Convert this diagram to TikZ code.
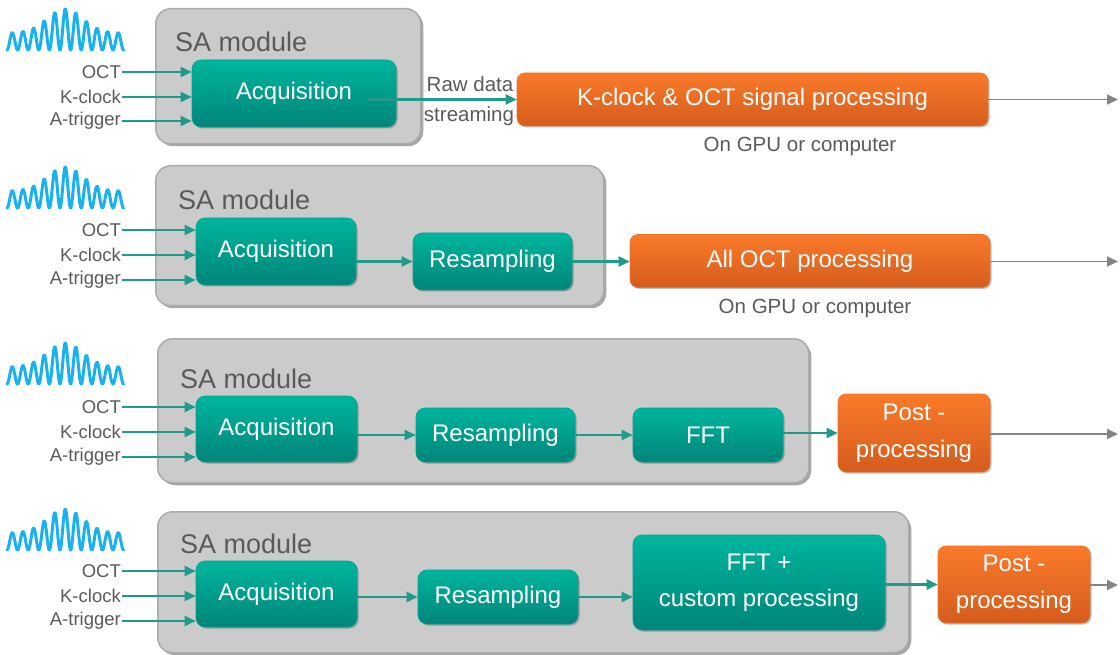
\documentclass[tikz,border=0pt]{standalone}
\usepackage{fontspec}
\setmainfont{Liberation Sans}
\usetikzlibrary{arrows.meta,shadows}
\definecolor{tealT}{HTML}{00B59D}
\definecolor{tealB}{HTML}{00857A}
\definecolor{oraT}{HTML}{FA7A2A}
\definecolor{oraB}{HTML}{D45C1D}
\definecolor{sagray}{HTML}{CBCBCB}
\definecolor{saedge}{HTML}{ABABAB}
\definecolor{txtgray}{HTML}{5A5A5A}
\definecolor{wavecol}{HTML}{1AB2EE}
\definecolor{arrteal}{HTML}{1E9B8B}
\definecolor{arrgray}{HTML}{858585}
\begin{document}
\begin{tikzpicture}[x=1pt,y=-1pt,
  sabox/.style={draw=saedge, line width=1.5pt, fill=sagray, rounded corners=15pt,
    drop shadow={shadow xshift=2.5pt,shadow yshift=-2.5pt,opacity=0.35,fill=black},
    anchor=north west, inner sep=0pt},
  satext/.style={text=txtgray, font=\fontsize{27}{30}\selectfont, anchor=base west, inner sep=0pt},
  tealbox/.style={rounded corners=9pt, top color=tealT, bottom color=tealB,
    draw=tealT!60!tealB, line width=0.6pt, text=white,
    font=\fontsize{24}{36}\selectfont, align=center, inner sep=0pt,
    drop shadow={shadow xshift=1.5pt,shadow yshift=-1.5pt,opacity=0.25,fill=black}},
  orabox/.style={rounded corners=8pt, top color=oraT, bottom color=oraB,
    draw=oraT!70!oraB, line width=0.6pt, text=white,
    font=\fontsize{24}{37}\selectfont, align=center, inner sep=0pt,
    drop shadow={shadow xshift=1.5pt,shadow yshift=-1.5pt,opacity=0.25,fill=black}},
  inlab/.style={text=txtgray, font=\fontsize{18.5}{20}\selectfont, anchor=east, inner sep=1pt},
  smalltext/.style={text=txtgray, font=\fontsize{20.5}{24}\selectfont, inner sep=0pt},
  tarr/.style={draw=arrteal, line width=2.1pt, -{Triangle[length=11pt,width=10pt]}},
  garr/.style={draw=arrgray, line width=1.8pt, -{Triangle[length=11pt,width=10pt]}},
  wavestyle/.style={draw=wavecol, line width=3pt, line join=round, line cap=round}
]
\useasboundingbox (0,0) rectangle (1120,655);

% waves
\foreach \b in {50, 208, 384, 550}{
  \draw[wavestyle] plot[domain=0:116.6, samples=360]
    ({7+\x},{\b - (17+24*exp(-((\x-58)/25)^2))*(1-cos(33.962*\x))/2});
}

%%%%%%%% Row 1
\node[sabox, minimum width=265pt, minimum height=135pt] (sa1) at (155,8) {};
\node[satext] (sat1) at (175,52) {SA module};
\node[tealbox, minimum width=204pt, minimum height=67pt] (acq1) at (294,93.5) {Acquisition};
\node[inlab] (o1) at (122,72) {OCT};
\node[inlab] (k1) at (122,97) {K-clock};
\node[inlab] (a1) at (122,121) {A-trigger};
\foreach \n in {o1,k1,a1} \draw[tarr] (\n.east) -- (\n.east -| acq1.west);
\node[orabox, minimum width=471pt, minimum height=53pt] (proc1) at (752.5,99.5) {K-clock \& OCT signal processing};
\coordinate (s1) at ([xshift=-28pt]acq1.east);
\draw[tarr] (s1 |- proc1.west) -- (proc1.west);
\node[smalltext, anchor=base] (raw) at (470,92) {Raw data};
\node[smalltext, anchor=base] (stream) at (469,122) {streaming};
\node[smalltext, anchor=base] (gpu1) at (800,152) {On GPU or computer};
\coordinate (e1) at (1118,99.5);
\draw[garr] (proc1.east) -- (e1);

%%%%%%%% Row 2
\node[sabox, minimum width=448pt, minimum height=140pt] (sa2) at (155,165) {};
\node[satext] (sat2) at (178,210) {SA module};
\node[tealbox, minimum width=160pt, minimum height=67pt] (acq2) at (276,251.5) {Acquisition};
\node[tealbox, minimum width=159pt, minimum height=57pt] (res2) at (492.5,261.5) {Resampling};
\node[inlab] (o2) at (122,230) {OCT};
\node[inlab] (k2) at (122,255) {K-clock};
\node[inlab] (a2) at (122,280) {A-trigger};
\foreach \n in {o2,k2,a2} \draw[tarr] (\n.east) -- (\n.east -| acq2.west);
\node[orabox, minimum width=360pt, minimum height=53pt] (proc2) at (810,261) {All OCT processing};
\draw[tarr] (acq2.east |- res2.west) -- (res2.west);
\draw[tarr] (res2.east) -- (res2.east -| proc2.west);
\node[smalltext, anchor=base] (gpu2) at (815,313) {On GPU or computer};
\coordinate (e2) at (1118,261.5);
\draw[garr] (proc2.east |- e2) -- (e2);

%%%%%%%% Row 3
\node[sabox, minimum width=651pt, minimum height=144pt] (sa3) at (157,338) {};
\node[satext] (sat3) at (180,388) {SA module};
\node[tealbox, minimum width=161pt, minimum height=66pt] (acq3) at (276.5,429) {Acquisition};
\node[tealbox, minimum width=159pt, minimum height=54pt] (res3) at (495.5,435) {Resampling};
\node[tealbox, minimum width=150pt, minimum height=54pt] (fft3) at (708,435) {FFT};
\node[orabox, minimum width=152pt, minimum height=78pt] (post3) at (914,433) {Post -\\processing};
\node[inlab] (o3) at (122,407) {OCT};
\node[inlab] (k3) at (122,432) {K-clock};
\node[inlab] (a3) at (122,457) {A-trigger};
\foreach \n in {o3,k3,a3} \draw[tarr] (\n.east) -- (\n.east -| acq3.west);
\draw[tarr] (acq3.east |- res3.west) -- (res3.west);
\draw[tarr] (res3.east) -- (fft3.west);
\draw[tarr] (fft3.east |- post3.west) -- (post3.west);
\coordinate (e3) at (1118,434);
\draw[garr] (post3.east |- e3) -- (e3);

%%%%%%%% Row 4
\node[sabox, minimum width=751pt, minimum height=141pt] (sa4) at (157,511) {};
\node[satext] (sat4) at (180,553) {SA module};
\node[tealbox, minimum width=161pt, minimum height=66pt] (acq4) at (276.5,594) {Acquisition};
\node[tealbox, minimum width=160pt, minimum height=54pt] (res4) at (498,597) {Resampling};
\node[tealbox, minimum width=252pt, minimum height=95pt] (fft4) at (759,582.5) {FFT +\\custom processing};
\node[orabox, minimum width=152pt, minimum height=77pt] (post4) at (1014,584.5) {Post -\\processing};
\node[inlab] (o4) at (122,571) {OCT};
\node[inlab] (k4) at (122,596) {K-clock};
\node[inlab] (a4) at (122,621) {A-trigger};
\foreach \n in {o4,k4,a4} \draw[tarr] (\n.east) -- (\n.east -| acq4.west);
\draw[tarr] (acq4.east |- res4.west) -- (res4.west);
\draw[tarr] (res4.east) -- (res4.east -| fft4.west);
\draw[tarr] (fft4.east |- post4.west) -- (post4.west);
\coordinate (e4) at (1118,585);
\draw[garr] (post4.east |- e4) -- (e4);
\end{tikzpicture}
\end{document}
